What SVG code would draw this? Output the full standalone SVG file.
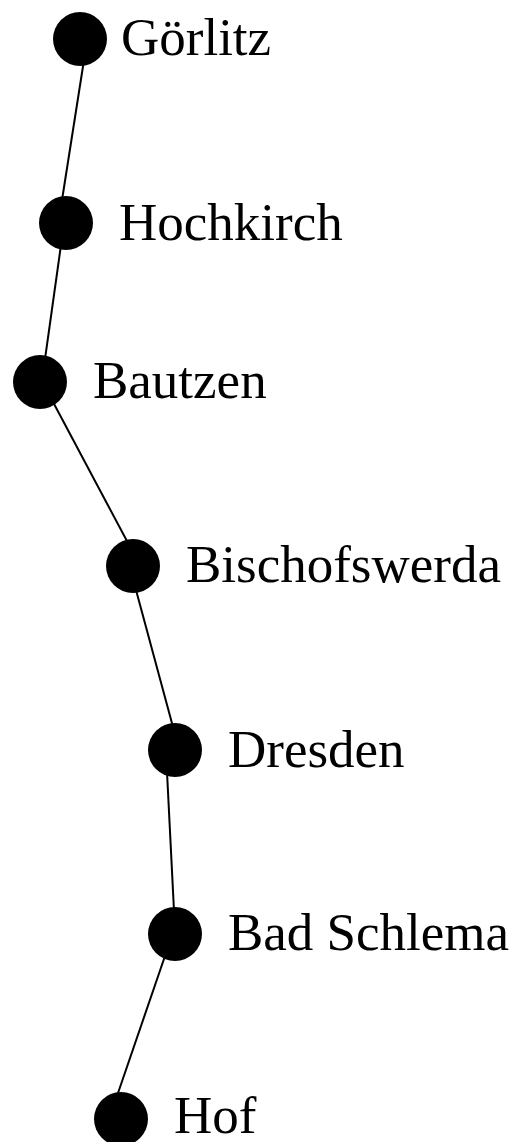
<svg xmlns="http://www.w3.org/2000/svg" width="517" height="1142" viewBox="0 0 517 1142">
<style>
.node circle{fill:#000}
.node text{font-family:"Liberation Serif","Times New Roman",serif;font-size:53px;fill:#000}
.edges line{stroke:#000;stroke-width:2}
</style>
<rect width="517" height="1142" fill="#fff"/>
<g class="edges" id="edges">
<line x1="84" y1="60" x2="62" y2="200"/>
<line x1="61" y1="245" x2="45" y2="359"/>
<line x1="53" y1="402" x2="128" y2="543"/>
<line x1="136" y1="590" x2="173" y2="727"/>
<line x1="167" y1="772" x2="174" y2="911"/>
<line x1="165" y1="956" x2="117" y2="1096"/>
</g>
<g class="node" id="n-goerlitz"><circle cx="80" cy="39" r="27"/><text x="121" y="55">Görlitz</text></g>
<g class="node" id="n-hochkirch"><circle cx="66" cy="223" r="27"/><text x="119" y="240">Hochkirch</text></g>
<g class="node" id="n-bautzen"><circle cx="40" cy="382" r="27"/><text x="93" y="398">Bautzen</text></g>
<g class="node" id="n-bischofswerda"><circle cx="133" cy="566" r="27"/><text x="186" y="582">Bischofswerda</text></g>
<g class="node" id="n-dresden"><circle cx="175" cy="750" r="27"/><text x="228" y="767">Dresden</text></g>
<g class="node" id="n-badschlema"><circle cx="175" cy="934" r="27"/><text x="228" y="950">Bad Schlema</text></g>
<g class="node" id="n-hof"><circle cx="121" cy="1119" r="27"/><text x="174" y="1133">Hof</text></g>
</svg>
